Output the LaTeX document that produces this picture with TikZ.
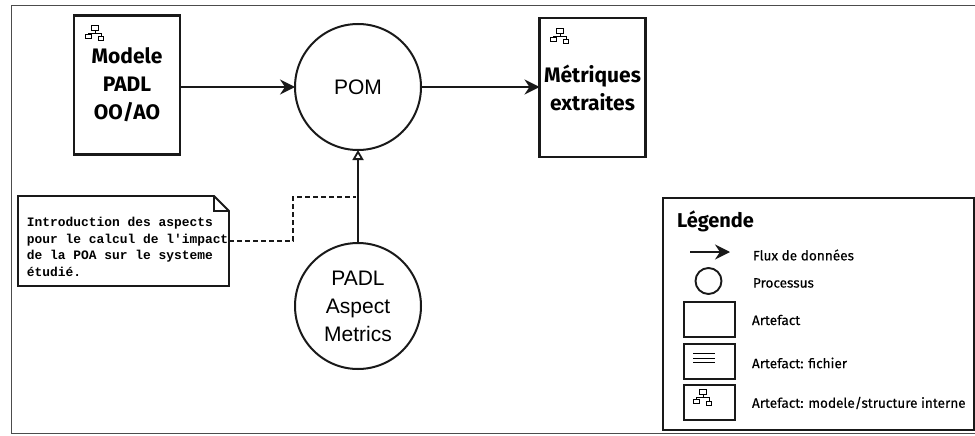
\documentclass[tikz,border=0pt]{standalone}
\usepackage{fontspec}
\setsansfont{Fira Sans}
\setmonofont{Liberation Mono}
\newfontfamily\pomfont{Liberation Sans}
\usetikzlibrary{positioning,arrows.meta,calc}

\begin{document}
\begin{tikzpicture}[
    x=1pt, y=-1pt,
    outer sep=0pt,
    artefact/.style={rectangle, draw=black!90, line width=2.3pt, fill=white, minimum width=106pt, minimum height=139pt, align=center, font=\sffamily\fontsize{21}{28}\selectfont\bfseries},
    process/.style={circle, draw=black!90, line width=2pt, fill=white, minimum size=126pt, align=center, inner sep=0pt, font=\pomfont\fontsize{21}{28}\selectfont},
    notebox/.style={rectangle, minimum width=211pt, minimum height=90pt, inner sep=0pt},
    notetext/.style={anchor=west, align=left, inner sep=0pt, font=\ttfamily\bfseries\fontsize{12.9}{16.6}\selectfont},
    legendbox/.style={rectangle, draw=black!90, line width=2pt, fill=white, minimum width=51pt, minimum height=35pt},
    legendtext/.style={anchor=west, inner sep=0pt, font=\sffamily\fontsize{13.6}{16}\selectfont\addfontfeature{FakeBold=0.3}},
    arrow/.style={-{Stealth[length=15pt,width=15pt,inset=5pt]}, line width=2pt, black!90},
    realize/.style={-{Triangle[open,length=10pt,width=11pt]}, line width=1.8pt, black!90},
    treeicon/.pic={
        \draw[line width=1pt, fill=white] (-3.5,-2.5) rectangle (3.5,2.5);
        \draw[line width=1pt] (0,2.5) -- (0,5.5) (-7,8) -- (-7,5.5) -- (6,5.5) -- (6,9);
        \draw[line width=1pt, fill=white] (-10,7) rectangle (-4,11);
        \draw[line width=1pt, fill=white] (3,9) rectangle (8,13);
    }
]
\useasboundingbox (0,0) rectangle (975,436);

% Outer frame
\draw[black!70, line width=1pt] (975,6) -- (11,6) -- (11,433) -- (975,433);

% Artefacts and processes
\node[artefact] (model) at (127,85) {Modele\\PADL\\OO/AO};
\node[process] (pom) at (358,87) {POM};
\node[artefact] (metrics) at (592.5,87.5) {Métriques\\extraites};
\node[process, below=93pt of pom] (aspect) {PADL\\Aspect\\Metrics};
\pic at (95,28) {treeicon};
\pic at (560,31) {treeicon};

% Flows
\draw[arrow] (model.east |- pom.west) -- (pom.west);
\draw[arrow] (pom.east) -- (metrics.west |- pom.east);
\draw[realize] (aspect) -- (pom);

% Note
\node[notebox] (note) at (123.5,241) {};
\node[notetext] (notetext) at ($(note.west)+(9,6)$) {Introduction des aspects\\pour le calcul de l'impact\\de la POA sur le systeme\\étudié.};
\draw[line width=1.9pt, black!90] (note.north west) -- ($(note.north east)+(-15,0)$) -- ($(note.north east)+(0,15)$) -- (note.south east) -- (note.south west) -- cycle;
\draw[line width=1.3pt, black!90] ($(note.north east)+(-15,0)$) -- ($(note.north east)+(-15,15)$) -- ($(note.north east)+(0,15)$);
\coordinate (bend) at (356,197);
\draw[line width=1.6pt, black!90, dash pattern=on 5pt off 3pt] (note.east) -- (293,241) -- (293,197) -- (bend);

% Legend
\node[rectangle, draw=black!90, line width=1.6pt, fill=white, minimum width=311pt, minimum height=232pt] (legend) at (818.5,314) {};
\node[anchor=west, inner sep=0pt, font=\sffamily\fontsize{20}{24}\selectfont\bfseries] (legendtitle) at (677,221) {Légende};
\coordinate (flowa) at (690,252);
\coordinate (flowb) at (730,252);
\draw[arrow] (flowa) -- (flowb);
\node[legendtext] (flowtext) at (753,255) {Flux de données};
\node[circle, draw=black!90, line width=1.9pt, minimum size=26pt] (proc) at (708.5,281) {};
\node[legendtext] (proctext) at (753,283) {Processus};
\node[legendbox] (art) at (709.5,319.5) {};
\node[legendtext] (arttext) at (752,320) {Artefact};
\node[legendbox] (file) at (709.5,361.5) {};
\node[legendtext] (filetext) at (752,363) {Artefact: fichier};
\draw[line width=1pt] (693,353) -- (715,353) (693,358) -- (715,358) (693,362) -- (715,362);
\node[legendbox] (struct) at (709.5,402.5) {};
\node[legendtext] (structtext) at (752,403) {Artefact: modele/structure interne};
\pic at (703,392) {treeicon};

\end{tikzpicture}
\end{document}
